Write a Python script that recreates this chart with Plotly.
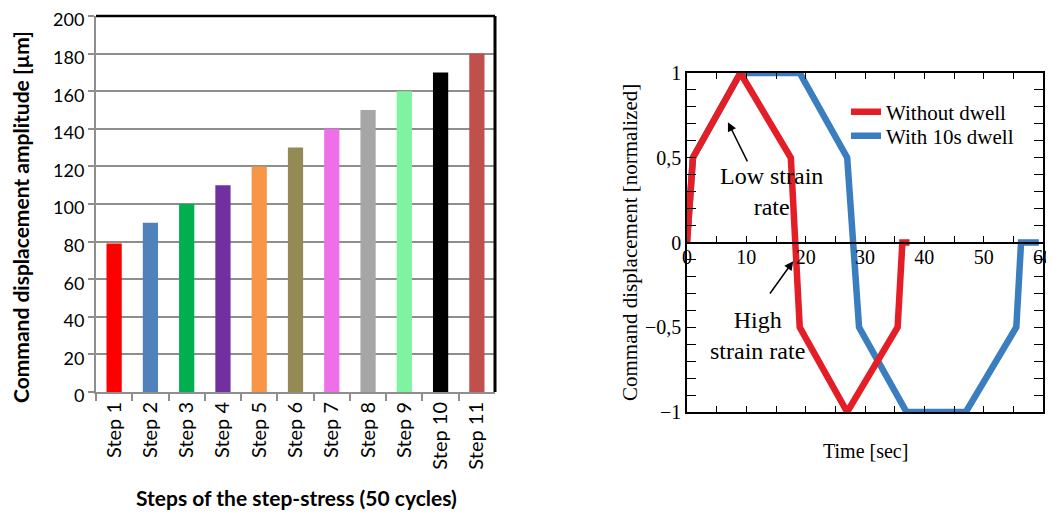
import plotly.graph_objects as go

# ---- Left chart data ----
steps = ["Step 1", "Step 2", "Step 3", "Step 4", "Step 5", "Step 6",
         "Step 7", "Step 8", "Step 9", "Step 10", "Step 11"]
amplitudes = [79, 90, 100, 110, 120, 130, 140, 150, 160, 170, 180]
bar_colors = ["#FF0000", "#4F81BD", "#00B050", "#7030A0", "#F79646", "#948A54",
              "#EE6FE8", "#A6A6A6", "#7FF3A0", "#000000", "#C0504D"]

# ---- Right chart data ----
t_no_dwell = [0, 1, 9, 17.5, 19, 27, 35.5, 36.3, 37.5]
d_no_dwell = [0, 0.5, 1, 0.5, -0.5, -1, -0.5, 0, 0]
t_dwell = [0, 1, 9, 19, 27, 29, 37, 47, 55.5, 56.3, 59.3]
d_dwell = [0, 0.5, 1, 1, 0.5, -0.5, -1, -1, -0.5, 0, 0]
y_ticks = [-1, -0.5, 0, 0.5, 1]
y_ticktext = ["\u22121", "\u22120,5", "0", "0,5", "1"]
x_ticks = [0, 10, 20, 30, 40, 50, 60]

# page body has an 8px margin: figure drawn at (8, 8)
OFF = 8
W, H = 1054 - OFF, 513 - OFF
def px(x):
    return (x - OFF) / W
def py(y):
    return (H - (y - OFF)) / H

L_DOM_X = [px(96), px(495)]
L_DOM_Y = [py(392), py(16)]
R_DOM_X = [px(687), px(1043)]
R_DOM_Y = [py(412), py(73)]
zero_pos = (R_DOM_Y[0] + R_DOM_Y[1]) / 2

SANS = "Lato, 'Open Sans', sans-serif"
SERIF = "'Liberation Serif', 'Times New Roman', serif"
RED = "#E41E26"
BLUE = "#3A7EBF"

fig = go.Figure()

fig.add_trace(go.Bar(x=steps, y=amplitudes, marker=dict(color=bar_colors, line_width=0),
                     width=0.42, showlegend=False, xaxis="x", yaxis="y"))

fig.add_trace(go.Scatter(x=t_dwell, y=d_dwell, mode="lines", name="With 10s dwell",
                         line=dict(color=BLUE, width=6.5), xaxis="x2", yaxis="y2",
                         legend="legend2"))
fig.add_trace(go.Scatter(x=t_no_dwell, y=d_no_dwell, mode="lines", name="Without dwell",
                         line=dict(color=RED, width=6.5), xaxis="x2", yaxis="y2",
                         legend="legend"))

GRID = "#8E8E8E"
leg_common = dict(xanchor="left", yanchor="middle", bgcolor="rgba(0,0,0,0)",
                  font=dict(family=SERIF, size=21, color="black"), itemwidth=30,
                  borderwidth=0)
fig.update_layout(
    width=W, height=H, margin=dict(l=0, r=0, t=0, b=0, autoexpand=False),
    paper_bgcolor="white", plot_bgcolor="white",
    showlegend=True,
    legend=dict(x=px(846), y=py(112), **leg_common),
    legend2=dict(x=px(846), y=py(136), **leg_common),
    xaxis=dict(domain=L_DOM_X, anchor="y", type="category",
               showline=True, linecolor=GRID, linewidth=2,
               ticks="outside", tickson="boundaries", ticklen=7, tickcolor=GRID, tickwidth=2,
               tickangle=-90, tickfont=dict(family=SANS, size=20, color="black"),
               showgrid=False),
    yaxis=dict(domain=L_DOM_Y, anchor="x", range=[0, 200], dtick=20,
               showline=True, linecolor=GRID, linewidth=2,
               ticks="outside", ticklen=6, tickcolor=GRID, tickwidth=2,
               ticklabeloverflow="allow", ticklabelshift=4,
               tickfont=dict(family=SANS, size=18, color="black"),
               showgrid=True, gridcolor=GRID, gridwidth=2, zeroline=False),
    xaxis2=dict(domain=R_DOM_X, anchor="y2", range=[0, 60],
                showline=True, linecolor="black", linewidth=1.5, mirror="allticks",
                ticks="inside", tickvals=list(range(5, 60, 5)), ticklen=6,
                tickcolor="black", showticklabels=False, showgrid=False, zeroline=False),
    xaxis3=dict(overlaying="x2", anchor="free", position=zero_pos, range=[0, 60],
                showline=True, linecolor="black", linewidth=1.5,
                ticks="inside", tickvals=list(range(5, 60, 5)), ticklen=6, tickcolor="black",
                showticklabels=False, showgrid=False, zeroline=False),
    xaxis4=dict(overlaying="x2", anchor="free", position=zero_pos, range=[0, 60],
                showline=False, ticks="", tickvals=x_ticks, ticklabeloverflow="allow",
                tickfont=dict(family=SERIF, size=20, color="black"),
                showgrid=False, zeroline=False),
    yaxis2=dict(domain=R_DOM_Y, anchor="x2", range=[-1, 1],
                showline=True, linecolor="black", linewidth=1.5, mirror="allticks",
                ticks="inside", tickvals=y_ticks, ticktext=y_ticktext, ticklen=9,
                tickcolor="black", ticklabeloverflow="allow",
                minor=dict(dtick=0.1, ticks="inside", ticklen=5, tickcolor="black"),
                tickfont=dict(family=SERIF, size=20, color="black"),
                showgrid=False, zeroline=False),
)

# dummy traces to activate overlay axes
fig.add_trace(go.Scatter(x=[0, 60], y=[0, 0], mode="lines", line=dict(width=0),
                         showlegend=False, hoverinfo="skip", xaxis="x3", yaxis="y2"))
fig.add_trace(go.Scatter(x=[0, 60], y=[0, 0], mode="lines", line=dict(width=0),
                         showlegend=False, hoverinfo="skip", xaxis="x4", yaxis="y2"))

# black top/right border on left chart
fig.add_shape(type="line", xref="x domain", yref="y domain", x0=0, x1=1, y0=1, y1=1,
              line=dict(color="black", width=2.5))
fig.add_shape(type="line", xref="x domain", yref="y domain", x0=1, x1=1, y0=0, y1=1,
              line=dict(color="black", width=3))

ann = dict(xref="paper", yref="paper", showarrow=False, xanchor="center", yanchor="middle")
# axis titles
fig.add_annotation(text="<b>Command displacement amplitude [µm]</b>",
                   x=px(20), y=py(217), textangle=-90,
                   font=dict(family=SANS, size=21, color="black"), **ann)
fig.add_annotation(text="<b>Steps of the step-stress (50 cycles)</b>",
                   x=px(296), y=py(497),
                   font=dict(family=SANS, size=21, color="black"), **ann)
fig.add_annotation(text="Command displacement [normalized]",
                   x=px(630), y=py(243), textangle=-90,
                   font=dict(family=SERIF, size=21, color="black"), **ann)
fig.add_annotation(text="Time [sec]", x=px(865), y=py(451),
                   font=dict(family=SERIF, size=20, color="black"), **ann)

# in-plot annotations
fig.add_annotation(text="Low strain<br>rate", xref="x2", yref="y2", x=14.3, y=0.3,
                   xanchor="center", yanchor="middle",
                   showarrow=False, font=dict(family=SERIF, size=24, color="black"))
fig.add_annotation(text="", xref="x2", yref="y2", x=6.9, y=0.71, ax=10.3, ay=0.47,
                   axref="x2", ayref="y2", showarrow=True, arrowhead=2, arrowsize=1.2,
                   arrowwidth=1.5, arrowcolor="black", standoff=0)
fig.add_annotation(text="High<br>strain rate", xref="x2", yref="y2", x=11.8, y=-0.55,
                   xanchor="center", yanchor="middle",
                   showarrow=False, font=dict(family=SERIF, size=24, color="black"))
fig.add_annotation(text="", xref="x2", yref="y2", x=17.9, y=-0.11, ax=13.8, ay=-0.31,
                   axref="x2", ayref="y2", showarrow=True, arrowhead=2, arrowsize=1.2,
                   arrowwidth=1.5, arrowcolor="black", standoff=0)

fig.write_html("out.html")
